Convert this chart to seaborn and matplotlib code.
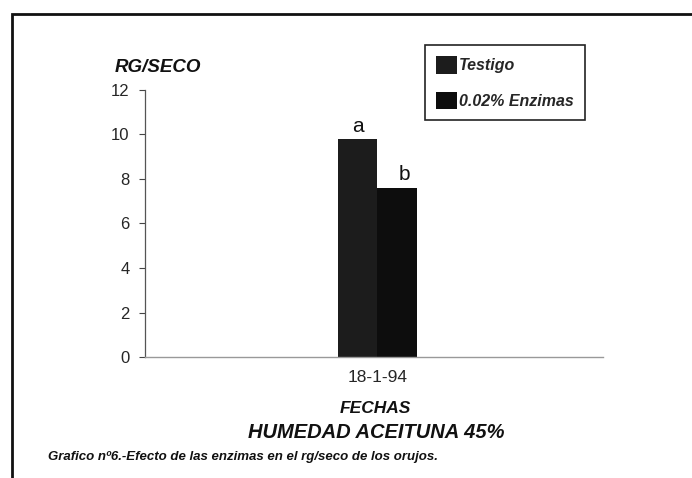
import matplotlib
matplotlib.use("Agg")
import matplotlib.pyplot as plt
import seaborn as sns
import pandas as pd
from matplotlib.patches import Rectangle

categories = ["18-1-94"]
series = ["Testigo", "0.02% Enzimas"]
testigo = [9.8]
enzimas = [7.6]
letters = ["a", "b"]
yticks = [0, 2, 4, 6, 8, 10, 12]

sns.set_theme(style="white")
plt.rcParams["font.family"] = ["Liberation Sans", "DejaVu Sans"]

df = pd.DataFrame({
    "fecha": categories * 2,
    "serie": [series[0]] * len(categories) + [series[1]] * len(categories),
    "valor": testigo + enzimas,
})

fig = plt.figure(figsize=(6.92, 4.78), dpi=100)
ax = fig.add_axes([0.2095, 0.253, 0.662, 0.559])

palette = {series[0]: "#1c1c1c", series[1]: "#0d0d0d"}
sns.barplot(data=df, x="fecha", y="valor", hue="serie", palette=palette,
            width=0.8, ax=ax, saturation=1, legend=False)

for p in ax.patches:
    p.set_edgecolor("none")

ax.set_xlim(-2.37, 2.3)
ax.set_ylim(0, 12)
ax.set_yticks(yticks)
ax.set_yticklabels([str(t) for t in yticks], fontsize=12)
ax.tick_params(axis="y", length=4, width=0.8, color="#444444", direction="out", left=True, pad=7)
ax.tick_params(axis="x", length=0, labelsize=12.5, pad=9)
ax.set_xlabel("")
ax.set_ylabel("")
for s in ["top", "right"]:
    ax.spines[s].set_visible(False)
ax.spines["left"].set_color("#555555")
ax.spines["left"].set_linewidth(0.9)
ax.spines["bottom"].set_color("#999999")
ax.spines["bottom"].set_linewidth(1.0)

# significance letters
bars = [p for p in ax.patches if p.get_height() > 0]
bars.sort(key=lambda p: p.get_x())
vals = testigo + enzimas
offsets = [0.0, 0.08]
for p, v, l, o in zip(bars, vals, letters, offsets):
    ax.text(p.get_x() + p.get_width() / 2 + o, v + 0.15, l, ha="center", va="bottom",
            fontsize=15, color="#111111")

# y-axis title
fig.text(0.166, 0.858, "RG/SECO", fontsize=13.5, fontweight="bold", style="italic",
         ha="left", va="center", color="#111111")

# x label and titles
fig.text(0.543, 0.146, "FECHAS", fontsize=12.5, fontweight="bold", style="italic",
         ha="center", va="center", color="#111111")
fig.text(0.543, 0.096, "HUMEDAD ACEITUNA 45%", fontsize=14.5, fontweight="bold", style="italic",
         ha="center", va="center", color="#111111")
fig.text(0.069, 0.044, "Grafico nº6.-Efecto de las enzimas en el rg/seco de los orujos.",
         fontsize=9.5, fontweight="bold", style="italic", ha="left", va="center", color="#111111")

# legend
handles = [Rectangle((0, 0), 1, 1, facecolor=palette[s], edgecolor="none") for s in series]
leg = fig.legend(handles, series, loc="upper left", bbox_to_anchor=(0.614, 0.906),
                 frameon=True, fancybox=False, edgecolor="#222222", framealpha=1,
                 handlelength=1.3, handleheight=1.3, handletextpad=0.15,
                 labelspacing=1.15, borderpad=0.7, borderaxespad=0,
                 prop={"weight": "bold", "style": "italic", "size": 11.5, "family": "Liberation Sans"})
leg.get_frame().set_linewidth(1.2)

# outer border (scanned frame)
fig.add_artist(Rectangle((12 / 692, -0.05), 1.2, 1 - 14 / 478 + 0.05, transform=fig.transFigure,
                         fill=False, edgecolor="#111111", linewidth=2))

fig.savefig("out.png", dpi=100)
